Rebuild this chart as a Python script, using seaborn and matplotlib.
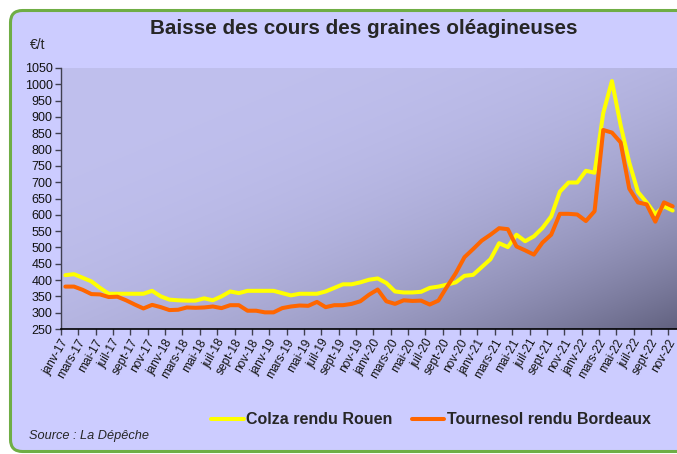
import numpy as np
import pandas as pd
import matplotlib
matplotlib.use("Agg")
import matplotlib.pyplot as plt
import seaborn as sns
from matplotlib.patches import FancyBboxPatch
from matplotlib.transforms import IdentityTransform

# ---------------- data ----------------
month_names = ['janv', 'févr', 'mars', 'avr', 'mai', 'juin',
               'juil', 'août', 'sept', 'oct', 'nov', 'déc']
years = ['17', '18', '19', '20', '21', '22']
categories = [f"{m}-{y}" for y in years for m in month_names][:71]  # janv-17 .. nov-22

colza = [415, 418, 407, 396, 376, 358, 358, 358, 358, 358, 367, 350,
         340, 338, 337, 337, 344, 338, 350, 365, 360, 367, 367, 367,
         367, 360, 353, 358, 358, 358, 365, 376, 387, 387, 393, 401,
         405, 391, 365, 362, 362, 364, 376, 380, 386, 393, 413, 416,
         440, 464, 513, 501, 539, 519, 534, 560, 595, 671, 699, 699,
         735, 729, 912, 1010, 875, 760, 670, 638, 602, 626, 613]

tournesol = [380, 380, 370, 357, 356, 348, 349, 338, 325, 313, 324, 317,
             308, 309, 316, 315, 316, 319, 314, 323, 323, 306, 306, 301,
             301, 314, 319, 322, 321, 333, 317, 323, 323, 327, 335, 355,
             371, 335, 327, 338, 336, 337, 325, 337, 380, 421, 470, 495,
             521, 539, 559, 556, 503, 491, 478, 515, 539, 603, 603, 601,
             581, 611, 860, 852, 822, 680, 638, 632, 579, 638, 626]

series_names = ['Colza rendu Rouen', 'Tournesol rendu Bordeaux']
y_ticks = list(range(250, 1051, 50))

df = pd.DataFrame({'idx': np.arange(len(categories)),
                   'mois': categories,
                   series_names[0]: colza,
                   series_names[1]: tournesol})

# ---------------- style ----------------
sns.set_style("white")
plt.rcParams['font.family'] = ['Liberation Sans', 'DejaVu Sans']

W, H = 677, 454
fig = plt.figure(figsize=(W / 100, H / 100), dpi=100)
fig.patch.set_facecolor('white')

# rounded lavender panel with green border
panel = FancyBboxPatch((10.5, 2.5), 700, 441,
                       boxstyle="round,pad=0,rounding_size=12",
                       transform=IdentityTransform(),
                       facecolor='#CCCCFF', edgecolor='#6FAE45', linewidth=2.2,
                       zorder=-10)
fig.patches.append(panel)

ax = fig.add_axes([61 / W, (H - 329) / H, (W - 61) / W, (329 - 68) / H])
ax.set_zorder(5)
ax.set_facecolor('none')

# gradient plot background
gx = np.linspace(0, 1, 400)
gy = np.linspace(1, 0, 300)
GX, GY = np.meshgrid(gx, gy)
t = ((GX + (1 - GY)) / 2) ** 3
c0 = np.array([192, 192, 238]) / 255
c1 = np.array([98, 98, 128]) / 255
img = c0[None, None, :] + (c1 - c0)[None, None, :] * t[..., None]
ax.imshow(img, extent=[-0.5, 70.5, 250, 1050], aspect='auto',
          origin='upper', zorder=0, interpolation='bilinear')

sns.lineplot(data=df, x='idx', y=series_names[0], ax=ax, color='#FFFF00',
             linewidth=2.9, zorder=3, label=series_names[0])
sns.lineplot(data=df, x='idx', y=series_names[1], ax=ax, color='#FF6600',
             linewidth=2.9, zorder=4, label=series_names[1])

ax.set_xlim(-0.5, 70.5)
ax.set_ylim(250, 1050)
ax.set_xlabel('')
ax.set_ylabel('')

for s in ['top', 'right']:
    ax.spines[s].set_visible(False)
ax.spines['left'].set_color('#404050')
ax.spines['left'].set_linewidth(1.0)
ax.spines['bottom'].set_color('black')
ax.spines['bottom'].set_linewidth(1.2)

ax.set_yticks(y_ticks)
ax.set_yticklabels([str(v) for v in y_ticks], fontsize=9, color='#111111')
ax.tick_params(axis='y', direction='out', length=4, width=1, color='#404050',
               pad=2, left=True)

major = list(range(0, 71, 2))
ax.set_xticks(major)
ax.set_xticklabels([categories[i] for i in major], rotation=60, ha='right',
                   va='center', rotation_mode='anchor', fontsize=8.6,
                   color='#111111')
ax.set_xticks([v - 0.5 for v in range(0, 71, 2)], minor=True)
ax.tick_params(axis='x', which='major', length=0, pad=8, bottom=True)
ax.tick_params(axis='x', which='minor', direction='out', length=4, width=1,
               color='#404050', bottom=True)

handles, labels = ax.get_legend_handles_labels()
ax.legend_.remove()
fig.legend(handles, labels, loc='center left',
           bbox_to_anchor=(211 / W, 1 - 420 / H), ncol=2, frameon=False,
           prop={'weight': 'bold', 'size': 11.5}, handlelength=2.05,
           handletextpad=0.15, columnspacing=1.2, borderpad=0,
           borderaxespad=0)

fig.text(363.5 / W, 1 - 29 / H, 'Baisse des cours des graines oléagineuses',
         ha='center', va='center', fontsize=14.9, fontweight='bold')
fig.text(30 / W, 1 - 45 / H, '€/t', ha='left', va='center', fontsize=10)
fig.text(29 / W, 1 - 436 / H, 'Source : La Dépêche', ha='left', va='center',
         fontsize=9.2, style='italic')

fig.savefig('out.png', dpi=100)
